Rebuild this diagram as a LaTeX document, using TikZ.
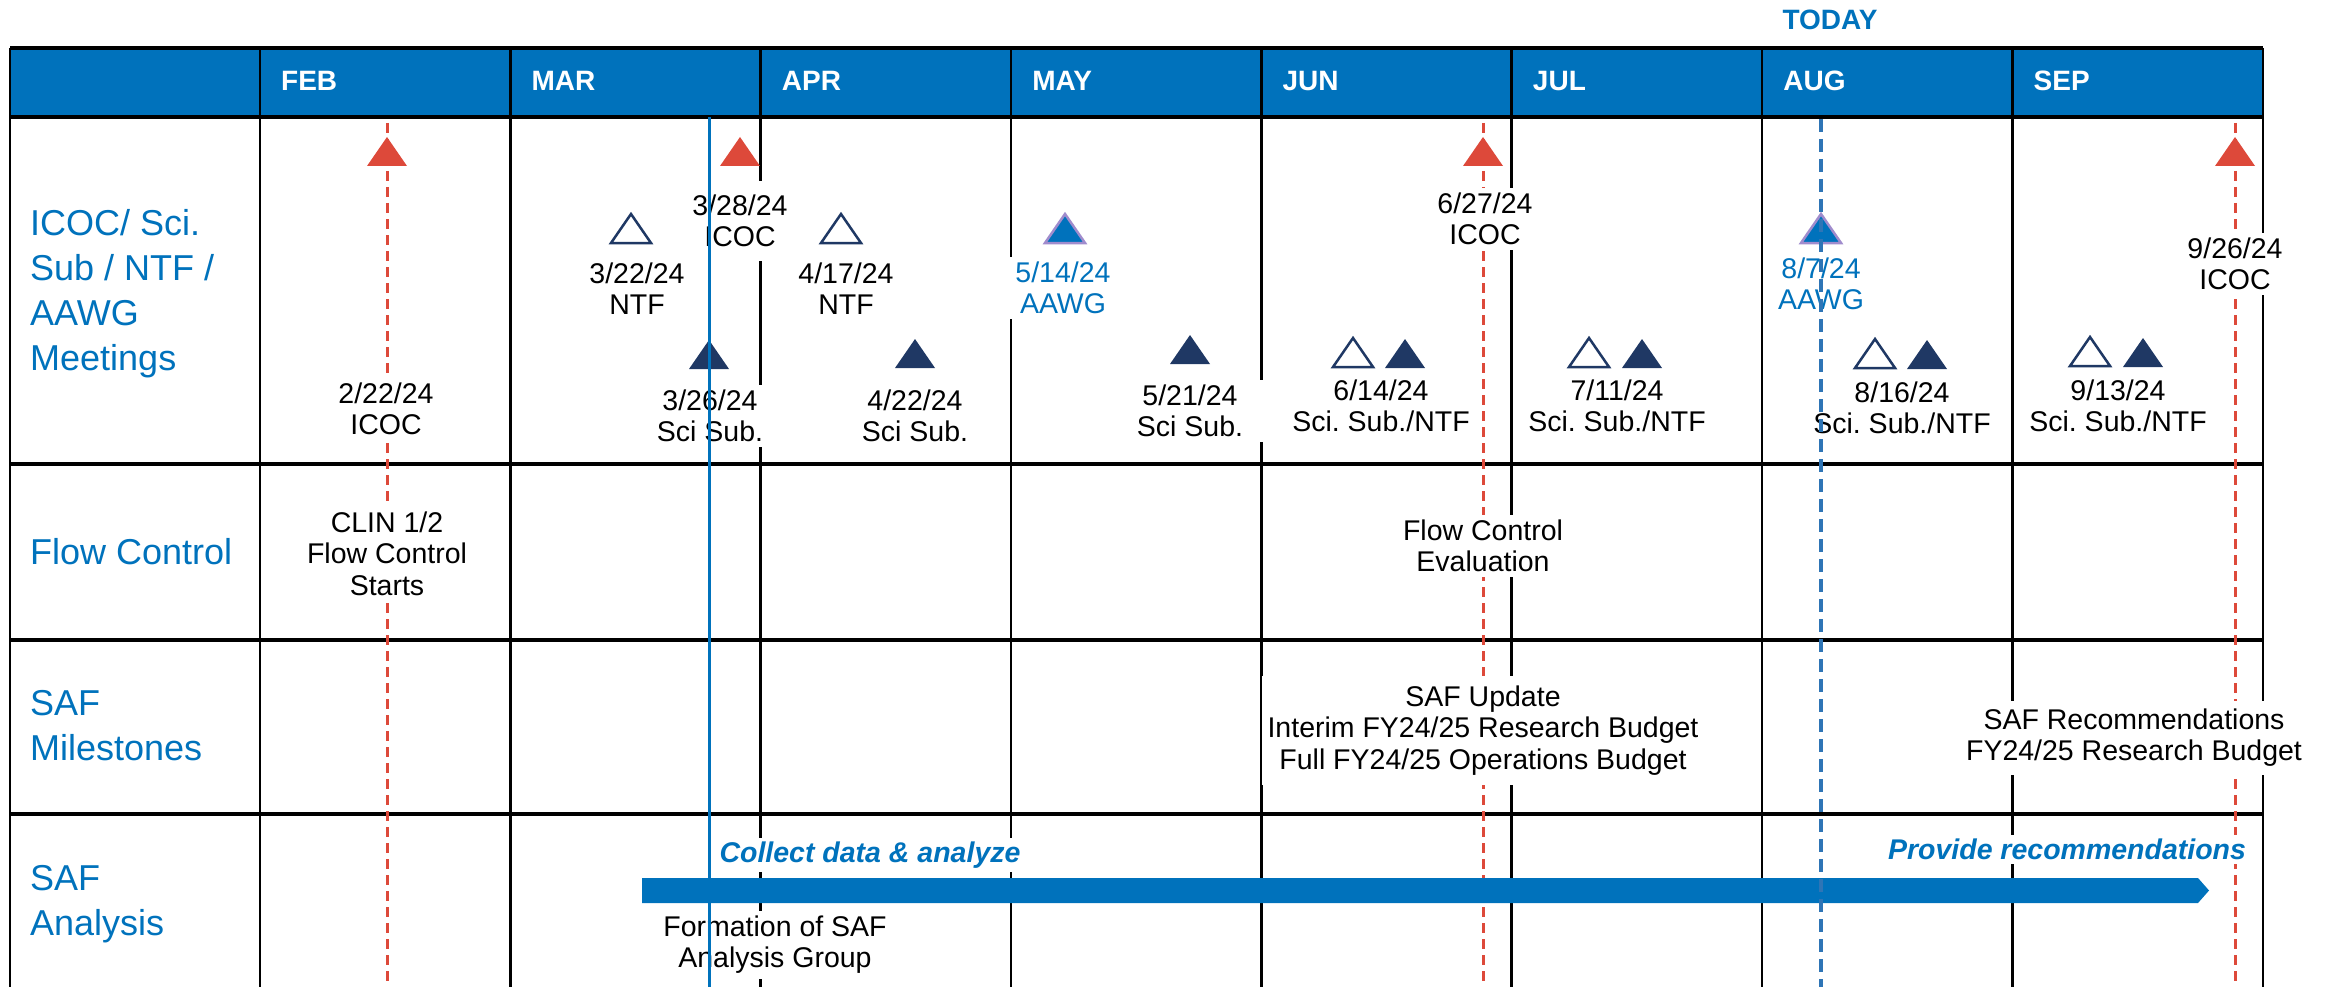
\documentclass[tikz,border=0pt]{standalone}
\usepackage{fontspec}
\setmainfont{Liberation Sans}
\frenchspacing
\definecolor{mainblue}{RGB}{0,114,188}
\definecolor{icocred}{RGB}{221,73,58}
\definecolor{navy}{RGB}{31,56,100}
\definecolor{lavender}{RGB}{160,140,205}
\definecolor{todayblue}{RGB}{46,117,182}
\newcommand{\tri}[3]{\path[#3] ({#1-20},#2) -- ({#1+20},#2) -- (#1,{#2-29}) -- cycle;}
\begin{document}
\begin{tikzpicture}[x=1pt,y=-1pt,
  lbl/.style={font=\fontsize{28.5}{31.5}\selectfont\frenchspacing, align=center, fill=white, inner xsep=6pt, inner ysep=5pt, anchor=north},
  rowlbl/.style={font=\fontsize{36}{45}\selectfont, text=mainblue, align=left, anchor=north west, inner sep=0pt},
  monthlbl/.style={font=\fontsize{28}{30}\selectfont\bfseries, text=white, anchor=base west, inner sep=0pt},
  phaselbl/.style={font=\fontsize{28.5}{31.5}\selectfont\bfseries\itshape, text=mainblue, fill=white, inner xsep=4pt, inner ysep=4pt, anchor=north},
  gridline/.style={line width=2.6pt, black},
  rowline/.style={line width=3.4pt, black},
  icocline/.style={line width=3pt, icocred, dash pattern=on 10pt off 6pt},
  todayline/.style={line width=3.5pt, todayblue, dash pattern=on 13pt off 7pt},
  redtri/.style={fill=icocred},
  filltri/.style={fill=navy},
  opentri/.style={draw=navy, fill=white, line width=2.5pt},
  aawgtri/.style={draw=lavender, fill=mainblue, line width=2.5pt}
]
\useasboundingbox (0,0) rectangle (2333,987);
% header
\fill[mainblue] (10,48) rectangle (2263,117);
\draw[gridline, line width=3.4pt] (10,48) -- (2263,48);
\draw[rowline] (10,117) -- (2263,117);
\foreach \yy in {464,640,814} \draw[rowline] (10,\yy) -- (2263,\yy);
\draw[gridline] (10,48) -- (10,987);
\foreach \i in {0,...,8} \draw[gridline] ({260+250.35*\i},48) -- ({260+250.35*\i},987);
\foreach \i/\m in {0/FEB,1/MAR,2/APR,3/MAY,4/JUN,5/JUL,6/AUG,7/SEP}
  \node[monthlbl] (m\i) at ({260+250.35*\i+21},91) {\m};
\node[font=\fontsize{28}{30}\selectfont\bfseries, text=mainblue, anchor=base, inner sep=0pt] (today) at (1830,30) {TODAY};
% ICOC dashed lines
\foreach \xx in {387,1483,2235} \draw[icocline] (\xx,123) -- (\xx,987);
% row labels
\node[rowlbl] (r1) at (30,209) {ICOC/ Sci.\\Sub / NTF /\\AAWG\\Meetings};
\node[rowlbl] (r2) at (30,538.3) {Flow Control};
\node[rowlbl] (r3) at (30,690.3) {SAF\\Milestones};
\node[rowlbl] (r4) at (30,865.3) {SAF\\Analysis};
% meeting labels
\node[lbl] (d0222) at (386,377.5) {2/22/24\\ICOC};
\node[lbl, inner ysep=14pt] (d0328) at (740,180.5) {3/28/24\\ICOC};
\node[lbl] (d0322) at (637,257.5) {3/22/24\\NTF};
\node[lbl] (d0326) at (710,384.5) {3/26/24\\Sci Sub.};
\node[lbl] (d0417) at (846,257.5) {4/17/24\\NTF};
\node[lbl] (d0422) at (915,384.5) {4/22/24\\Sci Sub.};
\node[lbl, text=mainblue] (d0514) at (1063,256.5) {5/14/24\\AAWG};
\node[lbl, inner xsep=20pt] (d0521) at (1190,379.5) {5/21/24\\Sci Sub.};
\node[lbl] (d0614) at (1381,374.5) {6/14/24\\Sci. Sub./NTF};
\node[lbl] (d0627) at (1485,187.5) {6/27/24\\ICOC};
\node[lbl] (d0711) at (1617,374.5) {7/11/24\\Sci. Sub./NTF};
\node[lbl, text=mainblue] (d0807) at (1821,252.5) {8/7/24\\AAWG};
\node[lbl] (d0816) at (1902,376.5) {8/16/24\\Sci. Sub./NTF};
\node[lbl] (d0913) at (2118,374.5) {9/13/24\\Sci. Sub./NTF};
\node[lbl] (d0926) at (2235,232.5) {9/26/24\\ICOC};
% other rows
\node[lbl] (clin) at (387,506.5) {CLIN 1/2\\Flow Control\\Starts};
\node[lbl] (fce) at (1483,514.5) {Flow Control\\Evaluation};
\node[lbl, inner ysep=10pt] (safu) at (1483,675.5) {SAF Update\\Interim FY24/25 Research Budget\\Full FY24/25 Operations Budget};
\node[lbl, inner ysep=8pt] (safr) at (2134,700.5) {SAF Recommendations\\FY24/25 Research Budget};
\node[lbl] (form) at (775,910.5) {Formation of SAF\\Analysis Group};
\node[phaselbl] (collect) at (870,837.5) {Collect data \& analyze};
\node[phaselbl] (provide) at (2067,834.5) {Provide recommendations};
% analysis bar
\fill[mainblue] (642,878) -- (2198,878) -- (2209,890.5) -- (2198,903) -- (642,903) -- cycle;
% triangles
\tri{387}{166}{redtri}
\tri{740}{166}{redtri}
\tri{1483}{166}{redtri}
\tri{2235}{166}{redtri}
\tri{631}{243}{opentri}
\tri{841}{243}{opentri}
\tri{1065}{243}{aawgtri}
\tri{1821}{243}{aawgtri}
\tri{709}{369}{filltri}
\tri{915}{368}{filltri}
\tri{1190}{364}{filltri}
\tri{1353}{367}{opentri}
\tri{1405}{368}{filltri}
\tri{1589}{367}{opentri}
\tri{1642}{368}{filltri}
\tri{1875}{368}{opentri}
\tri{1927}{369}{filltri}
\tri{2090}{366}{opentri}
\tri{2143}{367}{filltri}
% blue lines on top
\draw[line width=3pt, mainblue] (709,117) -- (709,987);
\draw[todayline] (1821,119) -- (1821,987);
\end{tikzpicture}
\end{document}
